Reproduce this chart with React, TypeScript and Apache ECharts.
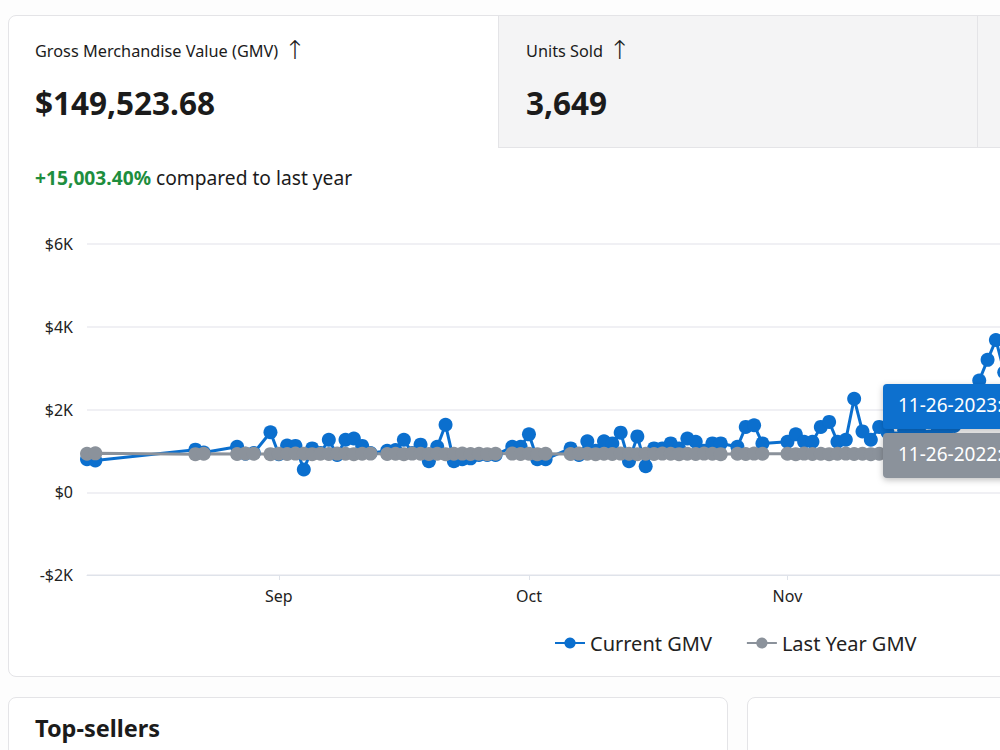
import React, { useEffect, useRef } from "react";
import * as echarts from "echarts";

const dates = [
  "2023-08-09", "2023-08-10", "2023-08-22", "2023-08-23", "2023-08-27", "2023-08-28", "2023-08-29", "2023-08-31",
  "2023-09-01", "2023-09-02", "2023-09-03", "2023-09-04", "2023-09-05", "2023-09-06", "2023-09-07", "2023-09-08",
  "2023-09-09", "2023-09-10", "2023-09-11", "2023-09-12",
  "2023-09-14", "2023-09-15", "2023-09-16", "2023-09-17", "2023-09-18", "2023-09-19", "2023-09-20", "2023-09-21",
  "2023-09-22", "2023-09-23", "2023-09-24", "2023-09-25", "2023-09-26", "2023-09-27",
  "2023-09-29", "2023-09-30", "2023-10-01", "2023-10-02", "2023-10-03",
  "2023-10-06", "2023-10-07", "2023-10-08", "2023-10-09", "2023-10-10", "2023-10-11", "2023-10-12", "2023-10-13",
  "2023-10-14", "2023-10-15", "2023-10-16", "2023-10-17", "2023-10-18", "2023-10-19", "2023-10-20", "2023-10-21",
  "2023-10-22", "2023-10-23", "2023-10-24",
  "2023-10-26", "2023-10-27", "2023-10-28", "2023-10-29",
  "2023-11-01", "2023-11-02", "2023-11-03", "2023-11-04", "2023-11-05", "2023-11-06", "2023-11-07", "2023-11-08",
  "2023-11-09", "2023-11-10", "2023-11-11", "2023-11-12", "2023-11-13", "2023-11-14", "2023-11-15", "2023-11-16",
  "2023-11-17", "2023-11-18", "2023-11-19", "2023-11-20", "2023-11-21", "2023-11-22", "2023-11-23", "2023-11-24",
  "2023-11-25", "2023-11-26", "2023-11-27", "2023-11-28",
];

const currentGmv = [
  800, 770, 1030, 960, 1100, 930, 950, 1450,
  920, 1130, 1120, 550, 1060, 950, 1270, 900,
  1270, 1300, 1120, 950,
  1000, 1020, 1270, 950, 1150, 750, 1100, 1630,
  750, 800, 820, 900, 900, 900,
  1100, 1100, 1400, 800, 800,
  1060, 900, 1230, 1000, 1230, 1180, 1440, 750,
  1350, 630, 1060, 1060, 1180, 1060, 1300, 1220,
  1000, 1180, 1180,
  1100, 1580, 1620, 1180,
  1220, 1400, 1220, 1220, 1580, 1700, 1220, 1270,
  2260, 1470, 1270, 1580, 1450, 1300, 1500, 1550,
  1400, 1350, 1550, 1450, 1600, 1750, 2100, 2700,
  3200, 3680, 2900, 2300,
];

const lastYearGmv = [
  930, 940, 920, 930, 925, 935, 930, 920,
  930, 925, 935, 930, 920, 930, 925, 935,
  930, 920, 930, 935,
  925, 930, 920, 935, 930, 925, 930, 920,
  930, 935, 925, 930, 920, 930,
  935, 925, 930, 920, 930,
  925, 935, 930, 920, 930, 925, 935, 930,
  920, 930, 925, 935, 930, 920, 930, 925,
  935, 930, 920,
  930, 925, 935, 930,
  930, 920, 935, 925, 930, 920, 930, 935,
  925, 930, 920, 930, 925, 935, 930, 920,
  930, 925, 935, 930, 920, 930, 925, 935,
  930, 920, 930, 925,
];

const yTicks = { min: -2000, max: 6000, interval: 2000 };
const axisMin = "2023-08-09";
const axisMax = "2023-12-14";
const monthNames = ["Jan", "Feb", "Mar", "Apr", "May", "Jun", "Jul", "Aug", "Sep", "Oct", "Nov", "Dec"];

const FONT = "'Noto Sans', 'Open Sans', sans-serif";
const BLUE = "#0b6fce";
const GRAY = "#8b929b";

function fmtY(v: number) {
  if (v === 0) return "$0";
  const s = "$" + Math.abs(v) / 1000 + "K";
  return v < 0 ? "-" + s : s;
}

function Chart() {
  const ref = useRef<HTMLDivElement>(null);
  useEffect(() => {
    if (!ref.current) return;
    const chart = echarts.init(ref.current, undefined, { renderer: "svg" });
    chart.setOption({
      animation: false,
      textStyle: { fontFamily: FONT },
      grid: { left: 78, right: 20, top: 29, bottom: 100 },
      legend: {
        left: 540,
        top: 413,
        itemWidth: 30,
        itemHeight: 14,
        itemGap: 34,
        textStyle: { fontSize: 20, color: "#222", fontFamily: FONT },
        data: ["Current GMV", "Last Year GMV"],
      },
      xAxis: {
        type: "time",
        min: axisMin,
        max: axisMax,
        minInterval: 28 * 86400000,
        axisLine: { onZero: false, lineStyle: { color: "#dfe3ea" } },
        axisTick: { show: true, length: 5, lineStyle: { color: "#dfe3ea" } },
        splitLine: { show: false },
        axisLabel: {
          fontSize: 16,
          color: "#222",
          margin: 13,
          formatter: (value: number) => {
            const d = new Date(value);
            return d.getDate() === 1 ? monthNames[d.getMonth()] : "";
          },
        },
      },
      yAxis: {
        type: "value",
        min: yTicks.min,
        max: yTicks.max,
        interval: yTicks.interval,
        axisLine: { show: false },
        axisTick: { show: false },
        splitLine: { lineStyle: { color: "#ebebf0", width: 1.5 } },
        axisLabel: { fontSize: 16, color: "#222", margin: 14, formatter: fmtY },
      },
      series: [
        {
          name: "Current GMV",
          type: "line",
          data: dates.map((d, i) => [d, currentGmv[i]]),
          symbol: "circle",
          symbolSize: 14,
          showAllSymbol: true,
          lineStyle: { color: BLUE, width: 3 },
          itemStyle: { color: BLUE },
        },
        {
          name: "Last Year GMV",
          type: "line",
          data: dates.map((d, i) => [d, lastYearGmv[i]]),
          symbol: "circle",
          symbolSize: 14,
          showAllSymbol: true,
          lineStyle: { color: GRAY, width: 3 },
          itemStyle: { color: GRAY },
        },
      ],
      graphic: [
        {
          type: "group",
          left: 874,
          top: 169,
          z: 100,
          children: [
            {
              type: "rect",
              z: 100,
              shape: { x: 0, y: 0, width: 220, height: 45, r: 4 },
              style: { fill: BLUE, shadowBlur: 6, shadowColor: "rgba(0,0,0,0.25)", shadowOffsetY: 2 },
            },
            {
              type: "text",
              z: 101,
              x: 15,
              y: 11,
              style: { text: "11-26-2023: $3,680.12", fill: "#fff", fontSize: 19, fontFamily: FONT },
            },
          ],
        },
        {
          type: "group",
          left: 874,
          top: 218,
          z: 100,
          children: [
            {
              type: "rect",
              z: 100,
              shape: { x: 0, y: 0, width: 220, height: 45, r: 4 },
              style: { fill: GRAY, shadowBlur: 6, shadowColor: "rgba(0,0,0,0.25)", shadowOffsetY: 2 },
            },
            {
              type: "text",
              z: 101,
              x: 15,
              y: 11,
              style: { text: "11-26-2022: $930.40", fill: "#fff", fontSize: 19, fontFamily: FONT },
            },
          ],
        },
      ],
    });
    return () => chart.dispose();
  }, []);
  return <div ref={ref} style={{ position: "absolute", left: 0, top: 199, width: 1157, height: 460 }} />;
}

const arrowStyle: React.CSSProperties = {
  fontFamily: "'DejaVu Sans', sans-serif",
  fontSize: 26,
  fontWeight: 200,
  marginLeft: 6,
  lineHeight: "20px",
  verticalAlign: "-2px",
};

export default function App() {
  const border = "1px solid #e4e4e7";
  return (
    <div
      style={{
        position: "fixed",
        inset: 0,
        overflow: "hidden",
        background: "#fdfdfd",
        fontFamily: FONT,
        color: "#1b1b1b",
      }}
    >
      <div
        style={{
          position: "absolute",
          left: 8,
          top: 15,
          width: 1600,
          height: 662,
          border,
          borderRadius: 8,
          background: "#fff",
          boxSizing: "border-box",
          overflow: "hidden",
        }}
      >
        <div style={{ position: "absolute", left: 489, top: 0, width: 479, height: 132, background: "#f4f4f5", borderLeft: border, borderBottom: border, boxSizing: "border-box" }} />
        <div style={{ position: "absolute", left: 968, top: 0, width: 700, height: 132, background: "#f4f4f5", borderLeft: border, borderBottom: border, boxSizing: "border-box" }} />
        <div style={{ position: "absolute", left: 26, top: 23, fontSize: 16.3, lineHeight: "24px", whiteSpace: "nowrap" }}>
          Gross Merchandise Value (GMV)<span style={arrowStyle}>↑</span>
        </div>
        <div style={{ position: "absolute", left: 26, top: 65, fontSize: 31.5, fontWeight: 700, whiteSpace: "nowrap" }}>$149,523.68</div>
        <div style={{ position: "absolute", left: 517, top: 23, fontSize: 16.3, lineHeight: "24px", whiteSpace: "nowrap" }}>
          Units Sold<span style={arrowStyle}>↑</span>
        </div>
        <div style={{ position: "absolute", left: 517, top: 65, fontSize: 31.5, fontWeight: 700, whiteSpace: "nowrap" }}>3,649</div>
        <div style={{ position: "absolute", left: 26, top: 148, fontSize: 19.2, whiteSpace: "nowrap" }}>
          <span style={{ color: "#1e8e3e", fontWeight: 700 }}>+15,003.40%</span> compared to last year
        </div>
        <Chart />
      </div>
      <div style={{ position: "absolute", left: 8, top: 697, width: 720, height: 200, border, borderRadius: 8, background: "#fff", boxSizing: "border-box" }}>
        <div style={{ position: "absolute", left: 26, top: 14, fontSize: 23.5, fontWeight: 700, whiteSpace: "nowrap" }}>Top-sellers</div>
      </div>
      <div style={{ position: "absolute", left: 747, top: 697, width: 600, height: 200, border, borderRadius: 8, background: "#fff", boxSizing: "border-box" }} />
    </div>
  );
}
